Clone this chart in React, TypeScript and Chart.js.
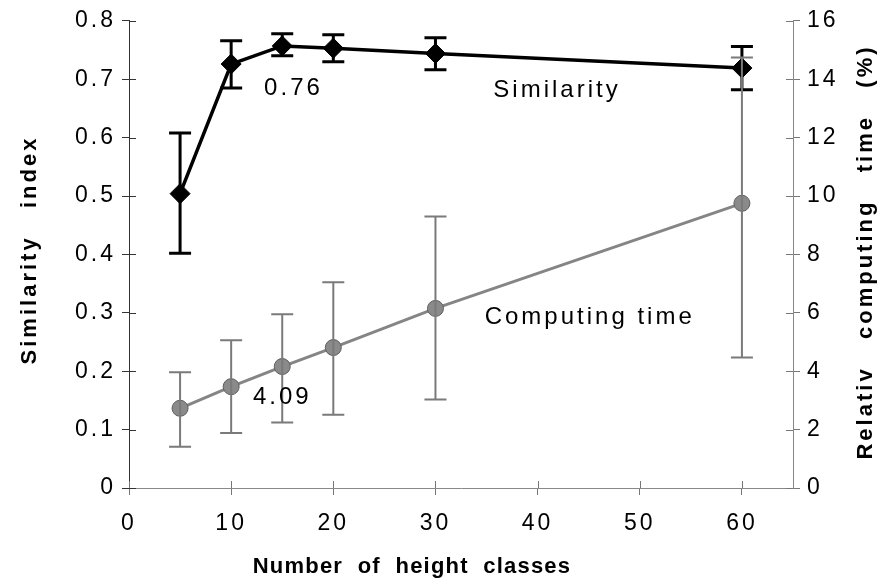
import React, { useEffect, useRef } from "react";
import { Chart, registerables } from "chart.js";

Chart.register(...registerables);

// ---- data ----
const heightClasses = [5, 10, 15, 20, 30, 60];
const similarity = [0.504, 0.726, 0.757, 0.753, 0.744, 0.719];
const similarityLow = [0.402, 0.685, 0.74, 0.73, 0.716, 0.682];
const similarityHigh = [0.608, 0.766, 0.778, 0.776, 0.771, 0.756];
const computingTime = [2.73, 3.47, 4.16, 4.81, 6.15, 9.75];
const computingLow = [1.41, 1.88, 2.24, 2.51, 3.03, 4.47];
const computingHigh = [3.96, 5.06, 5.95, 7.05, 9.3, 14.74];
const xTicks = [0, 10, 20, 30, 40, 50, 60];
const leftTicks = [0, 0.1, 0.2, 0.3, 0.4, 0.5, 0.6, 0.7, 0.8];
const rightTicks = [0, 2, 4, 6, 8, 10, 12, 14, 16];
const xTitle = "Number  of  height  classes";
const leftTitle = "Similarity   index";
const rightTitle = "Relativ   computing   time   (%)";
const annotations = [
  { text: "0.76", x: 16.1, y: 0.684, axis: "y" },
  { text: "Similarity", x: 41.9, y: 0.681, axis: "y" },
  { text: "Computing time", x: 45.1, y: 5.86, axis: "y2" },
  { text: "4.09", x: 15.0, y: 3.1, axis: "y2" },
];

const FONT = "'Liberation Sans', Arial, Helvetica, sans-serif";
const GRAY = "#858585";

const errorBarPlugin = {
  id: "errorBars",
  afterDatasetsDraw(chart: any) {
    const ctx = chart.ctx;
    const xs = chart.scales.x;
    const sets = [
      { axis: "y", lo: similarityLow, hi: similarityHigh, color: "#000", w: 3, cap: 11 },
      { axis: "y2", lo: computingLow, hi: computingHigh, color: "#7a7a7a", w: 2, cap: 11 },
    ];
    ctx.save();
    for (const s of sets) {
      const ys = chart.scales[s.axis];
      ctx.strokeStyle = s.color;
      ctx.lineWidth = s.w;
      heightClasses.forEach((xv, i) => {
        const px = xs.getPixelForValue(xv);
        const y1 = ys.getPixelForValue(s.lo[i]);
        const y2 = ys.getPixelForValue(s.hi[i]);
        ctx.beginPath();
        ctx.moveTo(px, y1);
        ctx.lineTo(px, y2);
        ctx.moveTo(px - s.cap, y1);
        ctx.lineTo(px + s.cap, y1);
        ctx.moveTo(px - s.cap, y2);
        ctx.lineTo(px + s.cap, y2);
        ctx.stroke();
      });
    }
    ctx.restore();
  },
};

const decorPlugin = {
  id: "decor",
  beforeDraw(chart: any) {
    chart.ctx.letterSpacing = "3px";
  },
  afterDraw(chart: any) {
    const ctx = chart.ctx;
    const { left, right, bottom } = chart.chartArea;
    const xs = chart.scales.x;
    const yl = chart.scales.y;
    const yr = chart.scales.y2;
    ctx.save();
    ctx.letterSpacing = "0px";
    // inner tick marks (ticks cross the axes)
    ctx.lineWidth = 1;
    ctx.strokeStyle = "#333";
    for (const v of leftTicks) {
      const y = Math.round(yl.getPixelForValue(v)) + 0.5;
      ctx.beginPath();
      ctx.moveTo(left, y);
      ctx.lineTo(left + 7, y);
      ctx.stroke();
    }
    ctx.strokeStyle = "#777";
    for (const v of rightTicks) {
      const y = Math.round(yr.getPixelForValue(v)) + 0.5;
      ctx.beginPath();
      ctx.moveTo(right, y);
      ctx.lineTo(right - 7, y);
      ctx.stroke();
    }
    for (const v of xTicks) {
      const x = Math.round(xs.getPixelForValue(v)) + 0.5;
      ctx.beginPath();
      ctx.moveTo(x, bottom);
      ctx.lineTo(x, bottom - 7);
      ctx.stroke();
    }
    // annotations
    ctx.fillStyle = "#000";
    ctx.font = `24px ${FONT}`;
    ctx.letterSpacing = "3px";
    ctx.textAlign = "center";
    ctx.textBaseline = "middle";
    for (const a of annotations) {
      const px = xs.getPixelForValue(a.x);
      const py = chart.scales[a.axis].getPixelForValue(a.y);
      ctx.fillText(a.text, px, py);
    }
    // axis titles
    ctx.font = `bold 22px ${FONT}`;
    ctx.letterSpacing = "1.2px";
    ctx.fillText(xTitle, 412, 567);
    ctx.letterSpacing = "3px";
    ctx.save();
    ctx.translate(30, 250);
    ctx.rotate(-Math.PI / 2);
    ctx.fillText(leftTitle, 0, 0);
    ctx.restore();
    ctx.save();
    ctx.translate(866, 252);
    ctx.rotate(-Math.PI / 2);
    ctx.fillText(rightTitle, 0, 0);
    ctx.restore();
    ctx.restore();
  },
};

export default function App() {
  const ref = useRef<HTMLCanvasElement>(null);
  useEffect(() => {
    document.body.style.margin = "0";
    const tickFont = { family: FONT, size: 23 };
    const chart = new Chart(ref.current as HTMLCanvasElement, {
      type: "line",
      data: {
        datasets: [
          {
            label: "Similarity",
            data: heightClasses.map((x, i) => ({ x, y: similarity[i] })),
            yAxisID: "y",
            borderColor: "#000",
            backgroundColor: "#000",
            borderWidth: 3.5,
            pointStyle: "rectRot",
            pointRadius: 10,
            pointBackgroundColor: "#000",
            pointBorderColor: "#000",
            pointBorderWidth: 1,
            tension: 0,
            order: 2,
          },
          {
            label: "Computing time",
            data: heightClasses.map((x, i) => ({ x, y: computingTime[i] })),
            yAxisID: "y2",
            borderColor: GRAY,
            backgroundColor: GRAY,
            borderWidth: 3,
            pointStyle: "circle",
            pointRadius: 8,
            pointBackgroundColor: "#8a8a8a",
            pointBorderColor: "#5e5e5e",
            pointBorderWidth: 1,
            tension: 0,
            order: 1,
          },
        ],
      },
      options: {
        responsive: false,
        animation: false,
        devicePixelRatio: 1,
        layout: { padding: { top: 18, left: 0, right: 0, bottom: 0 } },
        plugins: { legend: { display: false }, tooltip: { enabled: false } },
        scales: {
          x: {
            type: "linear",
            min: 0,
            max: 65,
            afterBuildTicks: (s: any) => {
              s.ticks = xTicks.map((v) => ({ value: v }));
            },
            afterFit: (s: any) => {
              s.height = 97;
            },
            ticks: { color: "#000", font: tickFont, padding: 15, maxRotation: 0, autoSkip: false },
            grid: { drawOnChartArea: false, tickLength: 7, color: "#777" },
            border: { color: "#888", width: 1 },
          },
          y: {
            type: "linear",
            position: "left",
            min: 0,
            max: 0.8,
            afterBuildTicks: (s: any) => {
              s.ticks = leftTicks.map((v) => ({ value: v }));
            },
            afterFit: (s: any) => {
              s.width = 129;
            },
            ticks: {
              color: "#000",
              font: tickFont,
              padding: 6,
              callback: (v: any) => (v === 0 ? "0" : Number(v).toFixed(1)),
            },
            grid: { drawOnChartArea: false, tickLength: 7, color: "#333" },
            border: { color: "#333", width: 1 },
          },
          y2: {
            type: "linear",
            position: "right",
            min: 0,
            max: 16,
            afterBuildTicks: (s: any) => {
              s.ticks = rightTicks.map((v) => ({ value: v }));
            },
            afterFit: (s: any) => {
              s.width = 95;
            },
            ticks: { color: "#000", font: tickFont, padding: 7 },
            grid: { drawOnChartArea: false, tickLength: 7, color: "#777" },
            border: { color: "#888", width: 1 },
          },
        },
      },
      plugins: [errorBarPlugin, decorPlugin],
    } as any);
    return () => chart.destroy();
  }, []);
  return (
    <div style={{ width: 888, height: 585 }}>
      <canvas ref={ref} width={888} height={585} style={{ display: "block" }} />
    </div>
  );
}
